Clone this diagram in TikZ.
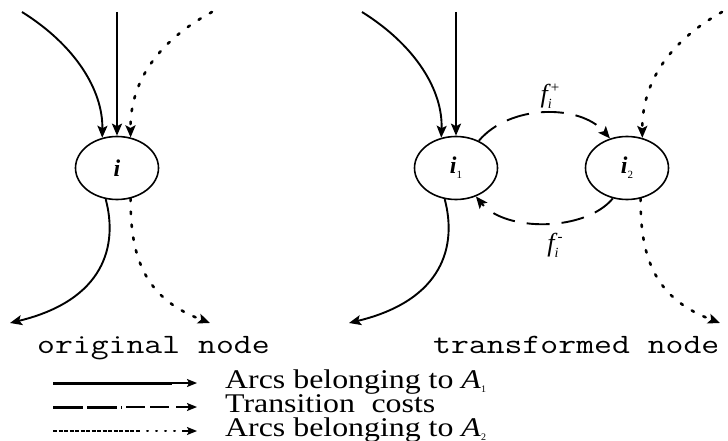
\documentclass[tikz,border=0pt]{standalone}
\usepackage{fontspec}
\setmainfont{Liberation Serif}
\usetikzlibrary{arrows.meta,shapes.geometric}
\newcommand{\subsc}[1]{\raisebox{-5pt}{\fontsize{11}{11}\selectfont\mdseries\upshape #1}}
\begin{document}
\begin{tikzpicture}[x=1pt,y=-1pt,
  nd/.style={draw, ellipse, minimum width=83pt, minimum height=63pt, line width=1.6pt, inner sep=0pt,
             font=\fontsize{24}{24}\selectfont\bfseries\itshape},
  tipa/.style={-{Stealth[length=12pt,width=10pt,inset=2.5pt]}},
  tipb/.style={-{Stealth[length=10pt,width=8pt,inset=2pt]}},
  solidarc/.style={tipa, line width=1.9pt},
  vertarc/.style={tipa, line width=2.6pt},
  dotarc/.style={tipa, line width=2.6pt, line cap=round, dash pattern=on 2.5pt off 10.5pt},
  tcarc/.style={tipa, line width=1.9pt, dash pattern=on 23pt off 12pt},
  capt/.style={font=\ttfamily\fontsize{28}{28}\selectfont, inner sep=0pt, anchor=base west},
  leg/.style={font=\fontsize{27}{27}\selectfont, inner sep=0pt, anchor=base west},
  flab/.style={font=\fontsize{26}{26}\selectfont\itshape, inner sep=0pt},
]
\useasboundingbox (0,0) rectangle (728,441);

% nodes
\node[nd] (i)  at (117,168) {i};
\node[nd] (i1) at (456,168) {i\subsc{1}};
\node[nd] (i2) at (627,168) {i\subsc{2}};

% free ends
\coordinate (la) at (22,12);
\coordinate (lb) at (117,12);
\coordinate (lc) at (212,12);
\coordinate (ld) at (10,323);
\coordinate (le) at (210,323);
\coordinate (ra) at (362,12);
\coordinate (rb) at (456,12);
\coordinate (rc) at (722,12);
\coordinate (rd) at (349,323);
\coordinate (re) at (720,323);

% original node
\draw[solidarc] (la) .. controls (75,45) and (103,90) .. (i.116);
\draw[vertarc] (lb) -- (i.north);
\draw[dotarc] (lc) .. controls (160,40) and (130,80) .. (i.66);
\draw[solidarc] (i.-110) .. controls (118,245) and (105,300) .. (ld);
\draw[dotarc] (i.-66) .. controls (130,265) and (150,300) .. (le);

% transformed node
\draw[solidarc] (ra) .. controls (415,45) and (443,90) .. (i1.116);
\draw[vertarc] (rb) -- (i1.north);
\draw[dotarc] (rc) .. controls (672,40) and (642,80) .. (i2.63);
\draw[solidarc] (i1.-110) .. controls (457,245) and (444,300) .. (rd);
\draw[dotarc] (i2.-66) .. controls (640,265) and (660,300) .. (re);

% transition costs
\draw[tcarc] (i1.50) .. controls (510,104) and (580,104) .. (i2.120);
\draw[tcarc] (i2.-115) .. controls (585,232) and (505,232) .. (i1.-55);
\node[flab] (fp) at (550,96) {f\rlap{\raisebox{-6pt}{\fontsize{14}{14}\selectfont i}}\hspace{3pt}\raisebox{10pt}{\fontsize{15}{15}\selectfont\upshape +}};
\node[flab] (fm) at (555,245) {f\rlap{\raisebox{-6pt}{\fontsize{14}{14}\selectfont i}}\hspace{3pt}\raisebox{10pt}{\fontsize{15}{15}\selectfont\upshape -}};

% captions
\node[capt] (c1) at (37,353) {\scalebox{1.24}[1]{original node}};
\node[capt] (c2) at (433,353) {\scalebox{1.24}[1]{transformed node}};

% legend
\coordinate (g1a) at (53,383);
\coordinate (g1b) at (172,383);
\coordinate (g1c) at (197,383);
\draw[line width=3pt] (g1a) -- (g1b);
\draw[tipb, line width=1.4pt] (g1b) -- (g1c);

\coordinate (g2a) at (53,407);
\coordinate (g2b) at (122,407);
\coordinate (g2c) at (126,407);
\coordinate (g2d) at (170,407);
\coordinate (g2e) at (176,407);
\coordinate (g2f) at (197,407);
\draw[line width=3pt, dash pattern=on 30pt off 4pt] (g2a) -- (g2b);
\draw[line width=1.9pt, dash pattern=on 19pt off 5pt] (g2c) -- (g2d);
\draw[tipb, line width=1.4pt] (g2e) -- (g2f);

\coordinate (g3a) at (53,431);
\coordinate (g3b) at (140,431);
\coordinate (g3c) at (147,431);
\coordinate (g3d) at (182,431);
\coordinate (g3e) at (197,431);
\draw[line width=1.6pt, dash pattern=on 4pt off 1.5pt] (g3a) -- (g3b);
\draw[line width=2pt, line cap=round, dash pattern=on 1pt off 8pt] (g3c) -- (g3d);
\draw[tipb, line width=1.4pt] (g3d) -- (g3e);

\node[leg] (t1) at (225,388) {\scalebox{1.18}[1]{Arcs belonging to \textit{A}}\raisebox{-4pt}{\fontsize{10}{10}\selectfont 1}};
\node[leg] (t2) at (225,412) {\scalebox{1.18}[1]{Transition\hspace{14pt}costs}};
\node[leg] (t3) at (225,436) {\scalebox{1.18}[1]{Arcs belonging to \textit{A}}\raisebox{-4pt}{\fontsize{10}{10}\selectfont 2}};
\end{tikzpicture}
\end{document}
